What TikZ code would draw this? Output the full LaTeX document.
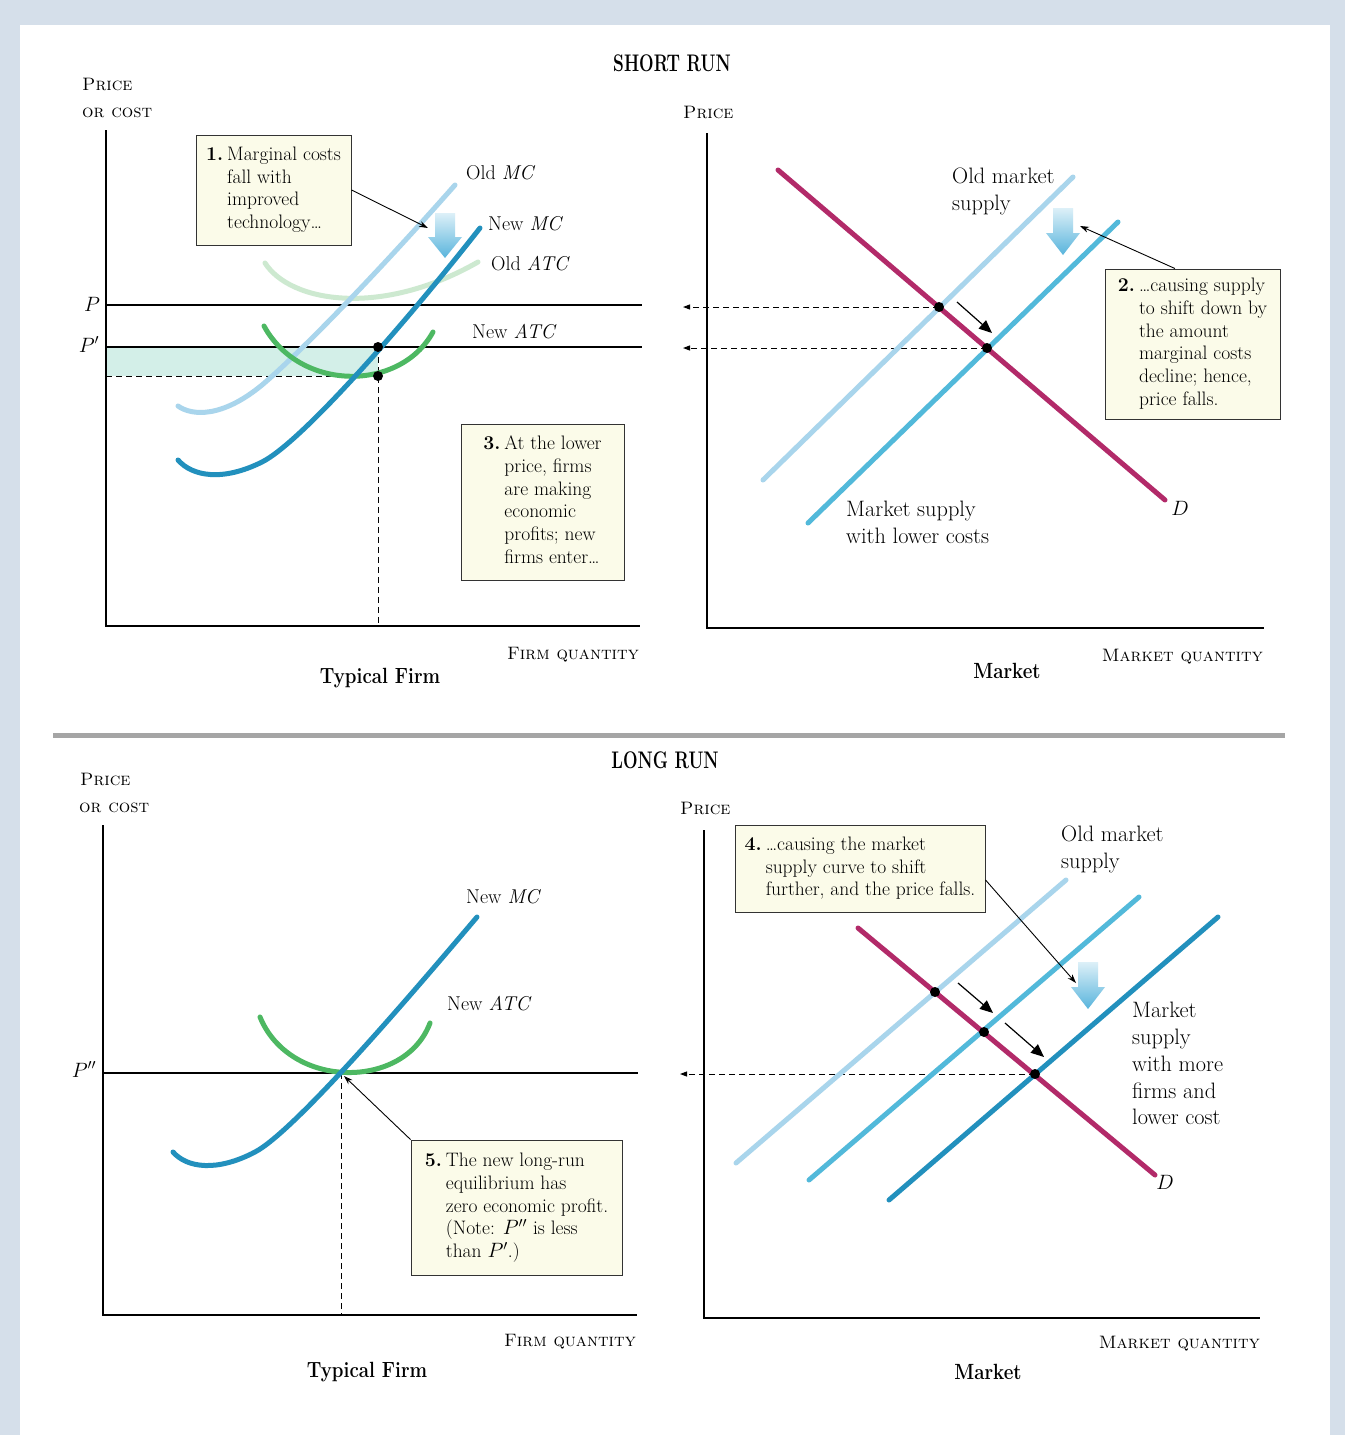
\documentclass[tikz,border=0pt]{standalone}
\usepackage{graphicx}
\usetikzlibrary{arrows.meta,calc}

\definecolor{frameblue}{HTML}{D5DFEA}
\definecolor{oldsupply}{HTML}{A9D5EC}
\definecolor{midsupply}{HTML}{52B9DA}
\definecolor{newcurve}{HTML}{2290BD}
\definecolor{demand}{HTML}{B22A69}
\definecolor{atcgreen}{HTML}{4DB862}
\definecolor{oldatc}{HTML}{CDE9D0}
\definecolor{profit}{HTML}{D3EFE8}
\definecolor{boxfill}{HTML}{FBFBE9}
\definecolor{rulegray}{HTML}{A5A5A5}
\definecolor{arrowtop}{HTML}{DDF0F8}
\definecolor{arrowbot}{HTML}{58B4DC}

\newcommand\boxfont{\fontsize{19.5}{22.8}\selectfont}
\newcommand\labelfont{\fontsize{20}{27}\selectfont}
\newcommand\marketfont{\fontsize{22.3}{26.8}\selectfont}
\newcommand\axisfont{\fontsize{18}{27}\selectfont}
\newcommand\titlefont{\fontsize{24}{28}\selectfont\bfseries}
\newcommand\panelfont{\fontsize{22}{26}\selectfont\bfseries}
\newcommand\condensedtext[2][0.85]{\scalebox{#1}[1]{#2}}
% numbered callout: bold number, then the lines hanging after it
\newcommand\calloutlines[2]{\begin{tabular}{@{}l@{\hspace{4pt}}l@{}}\textbf{#1}&#2\end{tabular}}

\begin{document}
\begin{tikzpicture}[x=1pt,y=-1pt,
  curve/.style={line width=5pt,line cap=round},
  axisline/.style={line width=1.3pt},
  priceline/.style={line width=1.1pt},
  guide/.style={line width=1pt,dash pattern=on 6pt off 4pt},
  eqdot/.style={circle,fill=black,inner sep=0pt,minimum size=10pt},
  callout/.style={draw=black!80,line width=1pt,fill=boxfill,inner xsep=8pt,inner ysep=5pt,font=\boxfont},
  leader/.style={line width=0.9pt,-{Stealth[length=9pt,width=6pt]}},
  shiftarrow/.style={line width=1.2pt,-{Triangle[length=13pt,width=11pt]}},
  pricearrow/.style={guide,-{Triangle[length=7pt,width=5pt]}},
  fatarrow/.style={top color=arrowtop,bottom color=arrowbot,draw=none},
  curvelabel/.style={font=\labelfont,inner sep=0pt},
  marketlabel/.style={font=\marketfont,inner sep=0pt,anchor=north west,align=left},
  axislabel/.style={font=\axisfont,inner sep=0pt},
  heading/.style={font=\titlefont,inner sep=0pt,anchor=base},
  panelname/.style={font=\panelfont,inner sep=0pt,anchor=base},
]
\useasboundingbox (0,0) rectangle (1345,1435);
\fill[frameblue] (0,0) rectangle (1345,1435);
\fill[white] (20,25) rectangle (1330,1435);

% ---------- headings and separator ----------
\node[heading] (srtitle) at (672,71) {\condensedtext[0.72]{SHORT RUN}};
\node[heading] (lrtitle) at (665,768) {\condensedtext[0.72]{LONG RUN}};
\coordinate (rulel) at (53,735);
\coordinate (ruler) at (1285,735);
\draw[rulegray,line width=5pt] (rulel) -- (ruler);

% ================= SHORT RUN: typical firm =================
\coordinate (tlO) at (106,626);
\coordinate (tlY) at (106,130);
\coordinate (tlX) at (640,626);
\fill[profit] (106,347) rectangle (378,376);
\draw[axisline] (tlY) -- (tlO) -- (tlX);

\coordinate (pstart) at (106,305);  \coordinate (pend) at (642,305);
\coordinate (ppstart) at (106,347); \coordinate (ppend) at (642,347);
\draw[priceline] (pstart) -- (pend);
\draw[priceline] (ppstart) -- (ppend);

\coordinate (mcp) at (378,347);
\coordinate (atcp) at (378,376);
\coordinate (atcaxis) at (106,376);
\coordinate (qfloor) at (378,626);
\draw[guide] (atcaxis) -- (atcp);
\draw[guide] (mcp) -- (qfloor);

% cost curves
\draw[curve,oldatc] (265,263) .. controls (290,302) and (380,318) .. (478,262);
\draw[curve,oldsupply] (178,406) .. controls (192,416) and (222,418) .. (262,385)
      .. controls (300,353) and (380,270) .. (455,185);
\draw[curve,atcgreen] (264,326) .. controls (300,392) and (400,392) .. (433,332);
\draw[curve,newcurve] (178,460) .. controls (192,476) and (222,482) .. (262,462)
      .. controls (300,443) and (400,330) .. (480,228);
\node[eqdot] (mcpdot) at (mcp) {};
\node[eqdot] (atcpdot) at (atcp) {};

\path[fatarrow,shift={(445,213)}] (-10,0) -- (10,0) -- (10,24) -- (17,24) -- (0,45) -- (-17,24) -- (-10,24) -- cycle;

\node[axislabel,anchor=base west] (tlprice) at (82,90) {\textsc{Price}};
\node[axislabel,anchor=base west] (tlcost) at (82,117) {\textsc{or cost}};
\node[axislabel,anchor=base east] (tlqty) at (639,659) {\textsc{Firm quantity}};
\node[panelname] (tlname) at (380,683) {\condensedtext{Typical Firm}};
\node[curvelabel,anchor=base] (plab) at (92,311) {$P$};
\node[curvelabel,anchor=base] (pplab) at (89,352) {$P'$};
\node[curvelabel,anchor=base west] (oldmclab) at (466,179) {Old \textit{MC}};
\node[curvelabel,anchor=base west] (newmclab) at (488,230) {New \textit{MC}};
\node[curvelabel,anchor=base west] (oldatclab) at (491,270) {Old \textit{ATC}};
\node[curvelabel,anchor=base west] (newatclab) at (472,338) {New \textit{ATC}};

\node[callout,minimum width=155pt,minimum height=110pt] (b1) at (273.5,190) {\calloutlines{1.}{Marginal costs\\&fall with\\&improved\\&technology\ldots}};
\coordinate (b1tip) at (428,228);
\draw[leader] (b1.east) -- (b1tip);
\node[callout,minimum width=163pt,minimum height=156pt] (b3) at (542.5,502) {\calloutlines{3.}{At the lower\\&price, firms\\&are making\\&economic\\&profits; new\\&firms enter\ldots}};

% ================= SHORT RUN: market =================
\coordinate (trO) at (707,628);
\coordinate (trY) at (707,133);
\coordinate (trX) at (1264,628);
\draw[axisline] (trY) -- (trO) -- (trX);

\coordinate (e1) at (939,307);
\coordinate (e2) at (987,348);
\coordinate (e1axis) at (683,307);
\coordinate (e2axis) at (683,348);
\draw[pricearrow] (e1) -- (e1axis);
\draw[pricearrow] (e2) -- (e2axis);

\draw[curve,oldsupply] (763,480) -- (1073,177);
\draw[curve,midsupply] (808,523) -- (1118,222);
\draw[curve,demand] (778,170) -- (1165,500);
\node[eqdot] (e1dot) at (e1) {};
\node[eqdot] (e2dot) at (e2) {};

\coordinate (s1a) at (957,302);
\coordinate (s1b) at (992,333);
\draw[shiftarrow] (s1a) -- (s1b);
\path[fatarrow,shift={(1063,208)}] (-10,0) -- (10,0) -- (10,25) -- (17,25) -- (0,47) -- (-17,25) -- (-10,25) -- cycle;

\node[axislabel,anchor=base west] (trprice) at (683,118) {\textsc{Price}};
\node[axislabel,anchor=base east] (trqty) at (1263,661) {\textsc{Market quantity}};
\node[panelname] (trname) at (1007,678) {\condensedtext{Market}};
\node[marketlabel] (oldmslab) at (952,168) {Old market\\supply};
\node[marketlabel] (newmslab) at (846,501) {Market supply\\with lower costs};
\node[curvelabel,anchor=base] (dlab) at (1180,515) {$D$};

\node[callout,minimum width=175pt,minimum height=150pt] (b2) at (1192.5,344) {\calloutlines{2.}{\ldots causing supply\\&to shift down by\\&the amount\\&marginal costs\\&decline; hence,\\&price falls.}};
\coordinate (b2tip) at (1080,226);
\draw[leader] ($(b2.north west)!0.4!(b2.north east)$) -- (b2tip);

% ================= LONG RUN: typical firm =================
\coordinate (blO) at (103,1315);
\coordinate (blY) at (103,825);
\coordinate (blX) at (637,1315);
\draw[axisline] (blY) -- (blO) -- (blX);

\coordinate (ppps) at (103,1073);
\coordinate (pppe) at (638,1073);
\draw[priceline] (ppps) -- (pppe);
\coordinate (lre) at (341,1073);
\coordinate (lrfloor) at (341,1315);
\draw[guide] (lre) -- (lrfloor);

\draw[curve,atcgreen] (260,1017) .. controls (290,1090) and (405,1090) .. (430,1023);
\draw[curve,newcurve] (173,1152) .. controls (187,1168) and (217,1172) .. (255,1152)
      .. controls (293,1132) and (400,1008) .. (477,917);

\node[axislabel,anchor=base west] (blprice) at (80,785) {\textsc{Price}};
\node[axislabel,anchor=base west] (blcost) at (79,812) {\textsc{or cost}};
\node[axislabel,anchor=base east] (blqty) at (636,1346) {\textsc{Firm quantity}};
\node[panelname] (blname) at (367,1377) {\condensedtext{Typical Firm}};
\node[curvelabel,anchor=base] (ppplab) at (84,1077) {$P''$};
\node[curvelabel,anchor=base west] (lrmclab) at (466,903) {New \textit{MC}};
\node[curvelabel,anchor=base west] (lratclab) at (447,1010) {New \textit{ATC}};

\node[callout,minimum width=211pt,minimum height=135pt] (b5) at (516.5,1207.5) {\calloutlines{5.}{The new long-run\\&equilibrium has\\&zero economic profit.\\&(Note: \smash{$P''$} is less\\&than \smash{$P'$}.)}};
\coordinate (b5tip) at (344,1076);
\draw[leader] (b5.north west) -- (b5tip);

% ================= LONG RUN: market =================
\coordinate (brO) at (704,1318);
\coordinate (brY) at (704,830);
\coordinate (brX) at (1260,1318);
\draw[axisline] (brY) -- (brO) -- (brX);

\coordinate (e3) at (935,992);
\coordinate (e4) at (984,1032);
\coordinate (e5) at (1035,1074);
\coordinate (e5axis) at (680,1074);
\draw[pricearrow] (e5) -- (e5axis);

\draw[curve,oldsupply] (736,1163) -- (1066,880);
\draw[curve,midsupply] (809,1180) -- (1139,897);
\draw[curve,newcurve] (889,1200) -- (1218,917);
\draw[curve,demand] (858,928) -- (1155,1175);
\node[eqdot] (e3dot) at (e3) {};
\node[eqdot] (e4dot) at (e4) {};
\node[eqdot] (e5dot) at (e5) {};

\coordinate (s2a) at (958,983);
\coordinate (s2b) at (993,1013);
\coordinate (s3a) at (1005,1023);
\coordinate (s3b) at (1044,1057);
\draw[shiftarrow] (s2a) -- (s2b);
\draw[shiftarrow] (s3a) -- (s3b);
\path[fatarrow,shift={(1088,962)}] (-10,0) -- (10,0) -- (10,25) -- (17,25) -- (0,47) -- (-17,25) -- (-10,25) -- cycle;

\node[axislabel,anchor=base west] (brprice) at (680,814) {\textsc{Price}};
\node[axislabel,anchor=base east] (brqty) at (1260,1348) {\textsc{Market quantity}};
\node[panelname] (brname) at (988,1379) {\condensedtext{Market}};
\node[marketlabel] (lroldlab) at (1061,826) {Old market\\supply};
\node[marketlabel] (lrnewlab) at (1132,1002) {Market\\supply\\with more\\firms and\\lower cost};
\node[curvelabel,anchor=base] (lrdlab) at (1165,1189) {$D$};

\node[callout,minimum width=250pt,minimum height=87pt] (b4) at (860,868.5) {\calloutlines{4.}{\ldots causing the market\\&supply curve to shift\\&further, and the price falls.}};
\coordinate (b4tip) at (1076,983);
\draw[leader] ($(b4.north east)!0.63!(b4.south east)$) -- (b4tip);
\end{tikzpicture}
\end{document}
